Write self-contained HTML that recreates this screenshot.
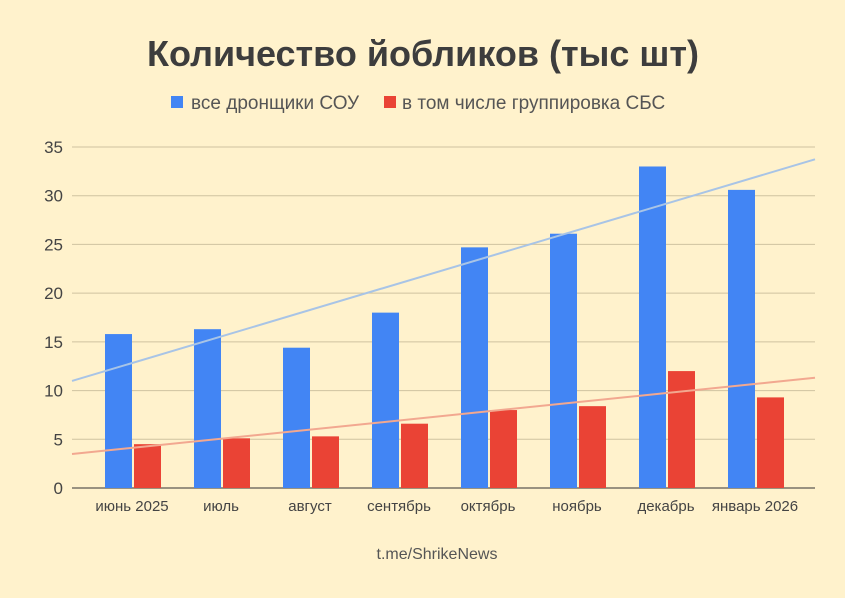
<!DOCTYPE html>
<html><head><meta charset="utf-8"><style>
body{margin:0;background:#fff2cc;}
svg text{font-family:"Liberation Sans",sans-serif;}
</style></head><body>
<svg id="chart" width="845" height="593" viewBox="0 0 845 593" xmlns="http://www.w3.org/2000/svg">
<rect x="0" y="0" width="845" height="593" fill="#fff2cc"/>
<text x="423" y="66" text-anchor="middle" font-size="36" font-weight="bold" fill="#3d3d3d">Количество йобликов (тыс шт)</text>
<g>
<rect x="171" y="96" width="12" height="12" fill="#4285f4"/>
<text x="191" y="109" font-size="19" fill="#555">все дронщики СОУ</text>
<rect x="384" y="96" width="12" height="12" fill="#ea4335"/>
<text x="402" y="109" font-size="19" fill="#555">в том числе группировка СБС</text>
</g>
<g id="grid"></g><g id="bars"></g><g id="trends"></g><g id="labels"></g>
<text x="437" y="559" text-anchor="middle" font-size="16" fill="#555">t.me/ShrikeNews</text>
</svg>
<script>
const categories=["июнь 2025","июль","август","сентябрь","октябрь","ноябрь","декабрь","январь 2026"];
const allPilots=[15.8,16.3,14.4,18.0,24.7,26.1,33.0,30.6];
const sbsPilots=[4.5,5.1,5.3,6.6,8.0,8.4,12.0,9.3];
const yTicks=[0,5,10,15,20,25,30,35];
const NS="http://www.w3.org/2000/svg";
const X0=72,X1=815,Y0=488,Y35=147,step=89,firstC=132;
const y=v=>Y0-(Y0-Y35)*v/35;
const xc=i=>firstC+i*step;
function mk(tag,attrs,parent){const e=document.createElementNS(NS,tag);for(const k in attrs)e.setAttribute(k,attrs[k]);document.getElementById(parent).appendChild(e);return e;}
yTicks.forEach(t=>{
 const l=mk('line',{x1:X0,x2:X1,y1:y(t),y2:y(t),stroke:t===0?'#333':'#cfc3a0','stroke-width':1},'grid');
 
 
 const tx=mk('text',{x:63,y:y(t)+6,'text-anchor':'end','font-size':17,fill:'#444'},'labels');
 tx.textContent=t;
 
 
});
categories.forEach((c,i)=>{
 const b=mk('rect',{x:xc(i)-27,y:y(allPilots[i]),width:27,height:Y0-y(allPilots[i]),fill:'#4285f4'},'bars');
 
 
 const r=mk('rect',{x:xc(i)+2,y:y(sbsPilots[i]),width:27,height:Y0-y(sbsPilots[i]),fill:'#ea4335'},'bars');
 
 
 const tx=mk('text',{x:xc(i),y:511,'text-anchor':'middle','font-size':15,fill:'#444'},'labels');
 tx.textContent=c;
 
 
});
function trend(vals,color,name){
 const n=vals.length,mx=(n-1)/2,my=vals.reduce((a,b)=>a+b,0)/n;
 let num=0,den=0;vals.forEach((v,i)=>{num+=(i-mx)*(v-my);den+=(i-mx)*(i-mx);});
 const s=num/den,f=p=>my+s*((p-firstC)/step-mx);
 const l=mk('line',{x1:X0,x2:X1,y1:y(f(X0)),y2:y(f(X1)),stroke:color,'stroke-width':2},'trends');
 
 
}
trend(allPilots,'#a8c4e6','trendline-all');
trend(sbsPilots,'#f2a890','trendline-sbs');
</script>
</body></html>
